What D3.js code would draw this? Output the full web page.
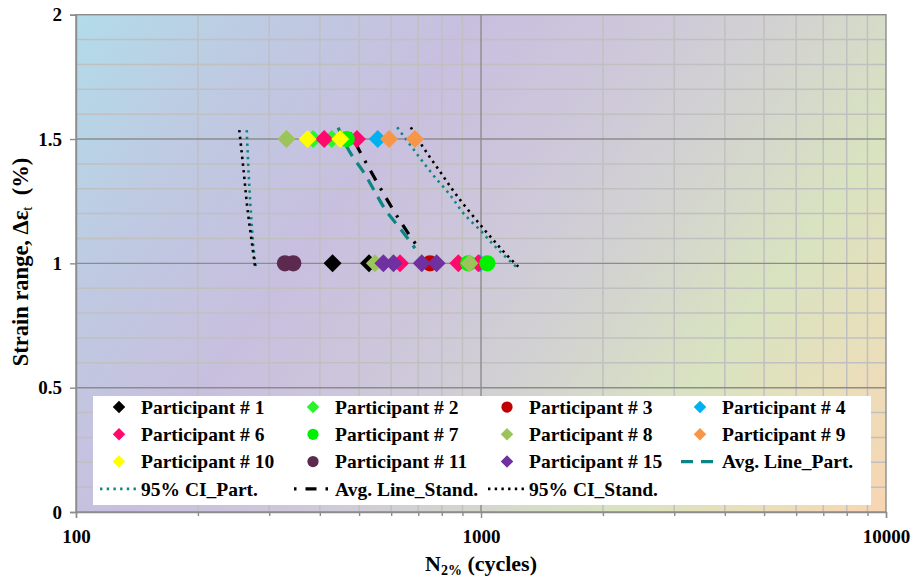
<!DOCTYPE html>
<html><head><meta charset="utf-8">
<script src="https://cdn.jsdelivr.net/npm/d3@7"></script>
<style>
html,body{margin:0;padding:0;background:#fff;}
svg text{font-family:"Liberation Serif","Times New Roman",serif;font-weight:bold;fill:#000;}
</style></head>
<body>
<svg id="chart" width="914" height="579"></svg>
<script>
// ---------- data ----------
const xTicks = [100, 1000, 10000];
const yTicks = [0, 0.5, 1, 1.5, 2];
const xMinor = [200,300,400,500,600,700,800,900,2000,3000,4000,5000,6000,7000,8000,9000];
const yMinor = [0.1,0.2,0.3,0.4,0.6,0.7,0.8,0.9,1.1,1.2,1.3,1.4,1.6,1.7,1.8,1.9];

// participants: points [N, strain]
const p1  = [[430,1],[529,1]];
const p2  = [[385,1.5],[428,1.5]];
const p3  = [[748,1]];
const p4  = [[556,1.5],[995,1]];
const p6  = [[410,1.5],[494,1.5],[631,1],[879,1],[985,1]];
const p7  = [[466,1.5],[930,1],[1037,1]];
const p8  = [[331,1.5],[547,1],[936,1]];
const p9  = [[593,1.5],[687,1.5]];
const p10 = [[373,1.5],[449,1.5]];
const p11 = [[328,1],[344,1]];
const p15 = [[574,1],[608,1],[714,1],[777,1]];

const seriesNames  = ["Participant # 1","Participant # 2","Participant # 3","Participant # 4","Participant # 6","Participant # 7","Participant # 8","Participant # 9","Participant # 10","Participant # 11","Participant # 15"];
const seriesColors = ["#000000","#2af52a","#c00000","#00b0f0","#ff0a6c","#00f000","#9bc45a","#f79646","#ffff00","#5b2a4e","#7030a0"];
const seriesShapes = ["diamond","diamond","circle","diamond","diamond","circle","diamond","diamond","diamond","circle","diamond"];
const seriesPoints = [p1,p2,p3,p4,p6,p7,p8,p9,p10,p11,p15];

// fitted lines [N, strain]
const avgPart   = [[444,1.546],[479,1.436],[512,1.369],[547,1.288],[585,1.208],[631,1.141],[687,1.061]];
const avgStand  = [[475,1.524],[512,1.425],[566,1.299],[627,1.178],[703,1.058]];
const ciPartL   = [[264,1.536],[267.5,1.328],[271.6,1.154],[275.5,1.034],[278,0.987]];
const ciPartR   = [[621,1.547],[681,1.459],[762,1.355],[839,1.275],[913,1.194],[994,1.134],[1094,1.061],[1220,0.987]];
const ciStandL  = [[253,1.536],[259,1.382],[265,1.221],[271.6,1.087],[276.7,0.987]];
const ciStandR  = [[671,1.547],[727,1.456],[792,1.369],[863,1.282],[966,1.181],[1063,1.101],[1168,1.027],[1236,0.987]];

const lineNames = ["Avg. Line_Part.","95% CI_Part.","Avg. Line_Stand.","95% CI_Stand."];

// ---------- layout ----------
const svg = d3.select("#chart");
const L = 76, T = 14.7, R = 886, B = 512;
const x = d3.scaleLog().domain([100, 10000]).range([L, R]);
const y = d3.scaleLinear().domain([0, 2]).range([B, T]);

// background gradient
const defs = svg.append("defs");
const W = R - L, H = B - T;
const ang = 36 * Math.PI / 180;
const proj = W * Math.cos(ang) + H * Math.sin(ang);
const grad = defs.append("linearGradient").attr("id","bg").attr("gradientUnits","userSpaceOnUse")
  .attr("x1", L).attr("y1", T)
  .attr("x2", L + proj * Math.cos(ang)).attr("y2", T + proj * Math.sin(ang));
[[0,"#b2dcea"],[0.18,"#bfc9e2"],[0.34,"#c8bfdf"],[0.5,"#cec8da"],[0.62,"#d3d3d0"],[0.76,"#d8e3c0"],[0.88,"#e9dfbb"],[1,"#f9d5b2"]]
  .forEach(s => grad.append("stop").attr("offset", s[0]).attr("stop-color", s[1]));

svg.append("rect").attr("x", L).attr("y", T).attr("width", W).attr("height", H).attr("fill","url(#bg)");

// gridlines
const g = svg.append("g");
g.selectAll("line.hm").data(yMinor).join("line")
  .attr("x1", L).attr("x2", R).attr("y1", d => y(d)).attr("y2", d => y(d))
  .attr("stroke","#c0c0c0").attr("stroke-width",1.5);
g.selectAll("line.vm").data(xMinor).join("line")
  .attr("y1", T).attr("y2", B).attr("x1", d => x(d)).attr("x2", d => x(d))
  .attr("stroke","#c0c0c0").attr("stroke-width",1.5);
g.selectAll("line.hM").data([0.5,1,1.5]).join("line")
  .attr("x1", L).attr("x2", R).attr("y1", d => y(d)).attr("y2", d => y(d))
  .attr("stroke","#8c8c8c").attr("stroke-width",1.4);
g.selectAll("line.vM").data([1000]).join("line")
  .attr("y1", T).attr("y2", B).attr("x1", d => x(d)).attr("x2", d => x(d))
  .attr("stroke","#8c8c8c").attr("stroke-width",1.4);
svg.append("rect").attr("x", L).attr("y", T).attr("width", W).attr("height", H)
  .attr("fill","none").attr("stroke","#8c8c8c").attr("stroke-width",1.4);

// axes
const yAxis = svg.append("g").attr("transform",`translate(${L},0)`)
  .call(d3.axisLeft(y).tickValues(yTicks).tickSize(6).tickPadding(8).tickFormat(d => String(d)));
const xAxis = svg.append("g").attr("transform",`translate(0,${B})`)
  .call(d3.axisBottom(x).tickValues(xTicks).tickSize(6).tickPadding(12).tickFormat(d3.format("d")));
svg.append("g").attr("transform",`translate(0,${B})`)
  .call(d3.axisBottom(x).tickValues(xMinor).tickSize(4).tickFormat(""))
  .call(a => a.select(".domain").remove());
[yAxis, xAxis].forEach(a => {
  a.select(".domain").attr("stroke","#8c8c8c").attr("stroke-width",1.4);
  a.selectAll("text").style("font-size","19px").style("font-family",'"Liberation Serif","Times New Roman",serif').style("font-weight","bold").attr("fill","#000");
});
svg.selectAll("g.tick line").attr("stroke","#8c8c8c").attr("stroke-width",1.4);

// axis titles
const yt = svg.append("text").attr("transform","translate(28,262) rotate(-90)")
  .attr("text-anchor","middle").style("font-size","22.5px");
yt.append("tspan").text("Strain range, Δε");
yt.append("tspan").text("t").attr("dy",4).style("font-size","15px").style("font-weight","normal");
yt.append("tspan").text("\u00a0 (%)").attr("dy",-4);

const xt = svg.append("text").attr("x", 481).attr("y", 571).attr("text-anchor","middle").style("font-size","22px");
xt.append("tspan").text("N");
xt.append("tspan").text("2%").attr("dy",4).style("font-size","14px");
xt.append("tspan").text(" (cycles)").attr("dy",-4);

// fitted lines
const lineGen = d3.line().x(d => x(d[0])).y(d => y(d[1])).curve(d3.curveMonotoneY);
const teal = "#0e8585";
const lineStyles = [
  {data: ciPartL,  color: teal, w: 2.6, dash: "2.4,4.3"},
  {data: ciPartR,  color: teal, w: 2.6, dash: "2.4,4.3"},
  {data: ciStandL, color: "#000", w: 2.6, dash: "2.4,4.3"},
  {data: ciStandR, color: "#000", w: 2.6, dash: "2.4,4.3"},
  {data: avgPart,  color: teal, w: 3.2, dash: "12,8"},
  {data: avgStand, color: "#000", w: 3.2, dash: "2.5,9,11,9"}
];
svg.append("g").selectAll("path").data(lineStyles).join("path")
  .attr("d", d => lineGen(d.data)).attr("fill","none")
  .attr("stroke", d => d.color).attr("stroke-width", d => d.w).attr("stroke-dasharray", d => d.dash);

// markers
const marks = svg.append("g");
function drawMarker(sel, shape, color, cx, cy, size) {
  if (shape === "circle") {
    sel.append("circle").attr("cx", cx).attr("cy", cy).attr("r", size * 0.45).attr("fill", color);
  } else {
    const h = size / 2;
    sel.append("path").attr("d", `M${cx},${cy-h}L${cx+h},${cy}L${cx},${cy+h}L${cx-h},${cy}Z`).attr("fill", color);
  }
}
seriesPoints.forEach((pts, i) => {
  pts.forEach(p => drawMarker(marks, seriesShapes[i], seriesColors[i], x(p[0]), y(p[1]), 18));
});

// legend
const lg = svg.append("g");
lg.append("rect").attr("x", 93).attr("y", 396).attr("width", 778).attr("height", 109).attr("fill","#fff");
const colText = [141, 335, 529, 722];
const rowY = [407, 434.3, 461.6, 488.9];
const entries = [];
seriesNames.forEach((n, i) => entries.push({type:"marker", name:n, i}));
entries.push({type:"line", name: lineNames[0], style: lineStyles[4]});
entries.push({type:"line", name: lineNames[1], style: lineStyles[0]});
entries.push({type:"line", name: lineNames[2], style: lineStyles[5]});
entries.push({type:"line", name: lineNames[3], style: lineStyles[2]});
entries.forEach((e, k) => {
  const col = k % 4, row = Math.floor(k / 4);
  const tx = colText[col], ty = rowY[row];
  if (e.type === "marker") {
    drawMarker(lg, seriesShapes[e.i], seriesColors[e.i], tx - 22, ty, 12.5);
  } else {
    lg.append("line").attr("x1", tx - 41).attr("x2", tx - 4).attr("y1", ty).attr("y2", ty)
      .attr("stroke", e.style.color).attr("stroke-width", e.style.w).attr("stroke-dasharray", e.style.dash);
  }
  lg.append("text").attr("x", tx).attr("y", ty).attr("dy","0.34em").style("font-size","19.5px").text(e.name);
});
</script>
</body></html>
